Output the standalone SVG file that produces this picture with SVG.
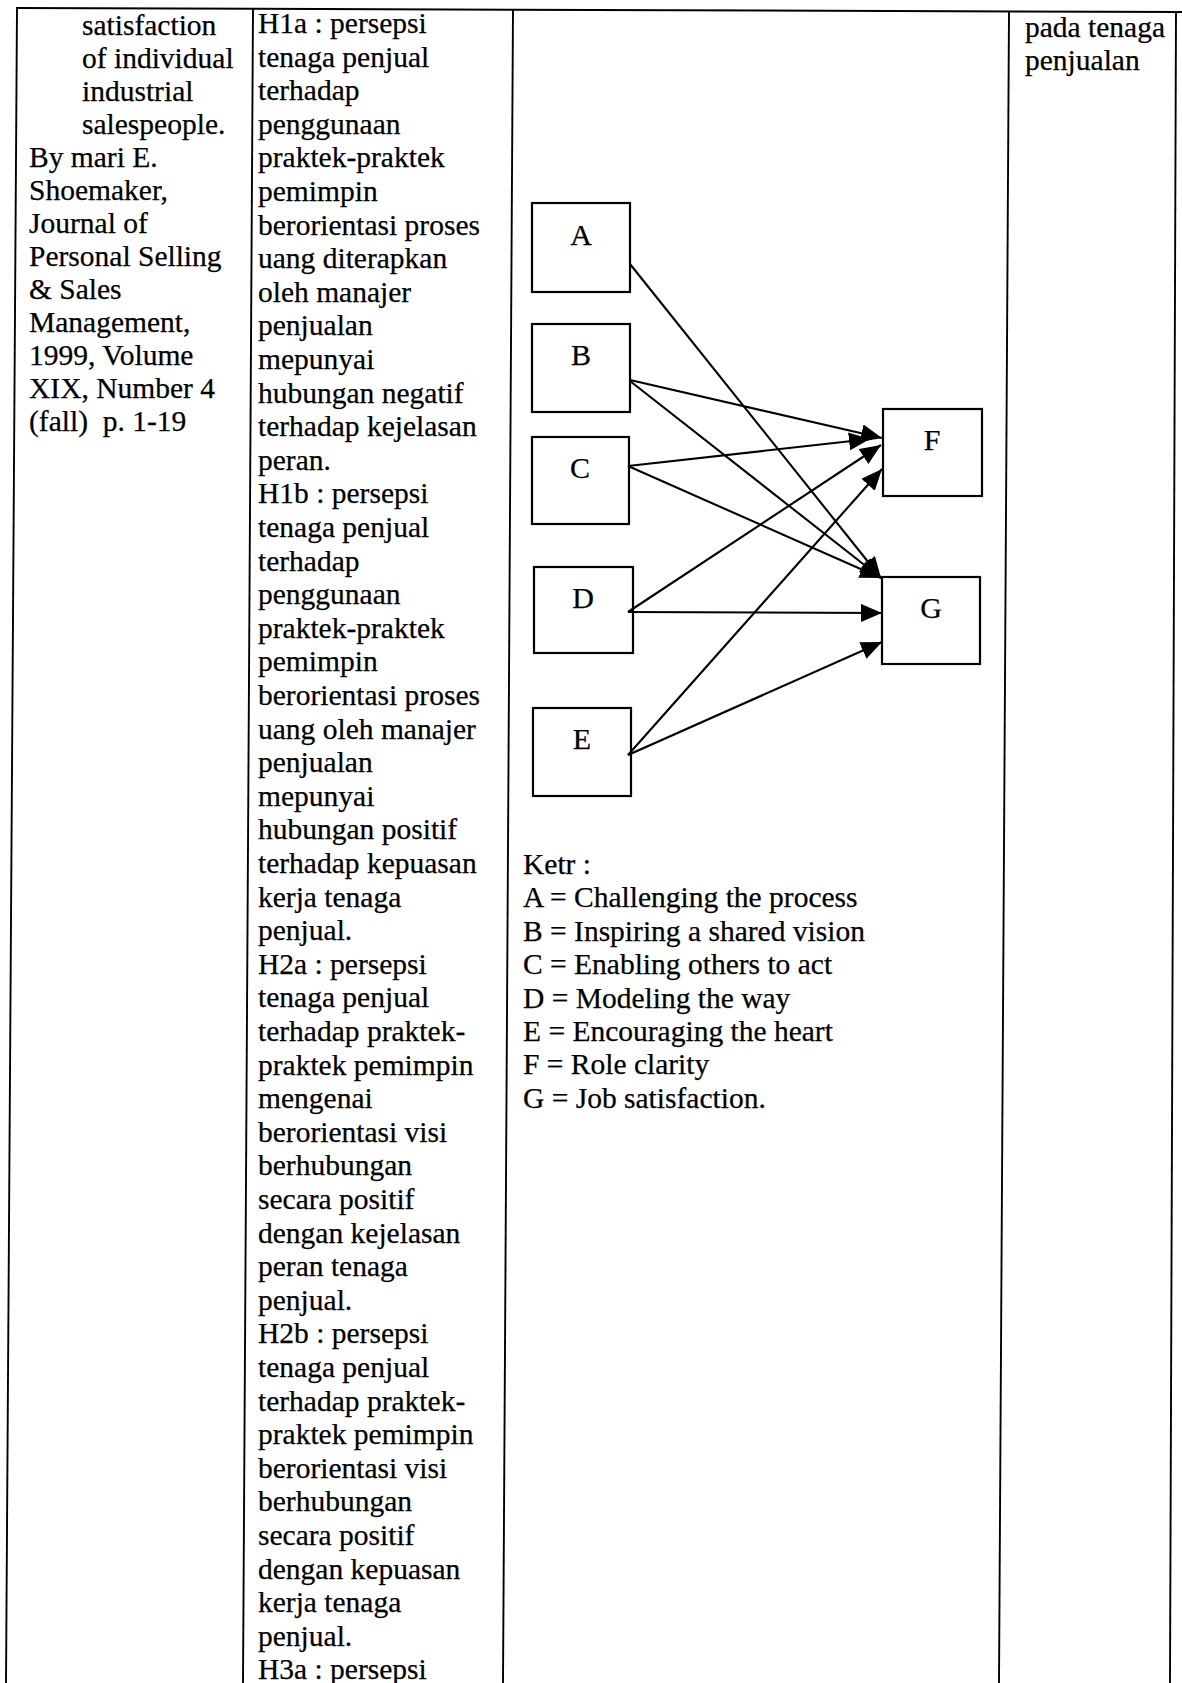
<svg xmlns="http://www.w3.org/2000/svg" width="1182" height="1683" viewBox="0 0 1182 1683">
  <style>
    .t { font-family: "Liberation Serif", "Times New Roman", serif; font-size: 29.5px; fill: #000; stroke: #000; stroke-width: 0.25; }
    .lbl { font-family: "Liberation Serif", "Times New Roman", serif; font-size: 30px; fill: #000; stroke: #000; stroke-width: 0.25; text-anchor: middle; }
    .rule { stroke: #000; stroke-width: 1.9; fill: none; }
    .box { stroke: #000; stroke-width: 2.2; fill: none; }
    .conn { stroke: #000; stroke-width: 2.1; fill: none; marker-end: url(#arrow); }
  </style>
  <defs>
    <marker id="arrow" markerUnits="userSpaceOnUse" markerWidth="24" markerHeight="20" refX="21" refY="9" orient="auto">
      <path d="M0,0 L21,9 L0,18 z" fill="#000"/>
    </marker>
  </defs>

  <rect width="1182" height="1683" fill="#fff"/>

  <!-- table rules -->
  <g id="table">
    <line class="rule" x1="16" y1="8" x2="1182" y2="12"/>
    <line class="rule" x1="17" y1="8" x2="6" y2="1683"/>
    <line class="rule" x1="253" y1="8" x2="243" y2="1683"/>
    <line class="rule" x1="513" y1="9" x2="503" y2="1683"/>
    <line class="rule" x1="1009" y1="11" x2="999" y2="1683"/>
    <line class="rule" x1="1176" y1="12" x2="1170" y2="1683"/>
  </g>

  <!-- column 1: reference -->
  <text id="col1" class="t">
    <tspan x="82" y="35">satisfaction</tspan>
    <tspan x="82" dy="33">of individual</tspan>
    <tspan x="82" dy="33">industrial</tspan>
    <tspan x="82" dy="33">salespeople.</tspan>
    <tspan x="29" dy="33">By mari E.</tspan>
    <tspan x="29" dy="33">Shoemaker,</tspan>
    <tspan x="29" dy="33">Journal of</tspan>
    <tspan x="29" dy="33">Personal Selling</tspan>
    <tspan x="29" dy="33">&amp; Sales</tspan>
    <tspan x="29" dy="33">Management,</tspan>
    <tspan x="29" dy="33">1999, Volume</tspan>
    <tspan x="29" dy="33">XIX, Number 4</tspan>
    <tspan x="29" dy="33" xml:space="preserve">(fall)  p. 1-19</tspan>
  </text>

  <!-- column 2: hypotheses -->
  <text id="col2" class="t">
    <tspan x="258" y="33">H1a : persepsi</tspan>
    <tspan x="258" dy="33.6">tenaga penjual</tspan>
    <tspan x="258" dy="33.6">terhadap</tspan>
    <tspan x="258" dy="33.6">penggunaan</tspan>
    <tspan x="258" dy="33.6">praktek-praktek</tspan>
    <tspan x="258" dy="33.6">pemimpin</tspan>
    <tspan x="258" dy="33.6">berorientasi proses</tspan>
    <tspan x="258" dy="33.6">uang diterapkan</tspan>
    <tspan x="258" dy="33.6">oleh manajer</tspan>
    <tspan x="258" dy="33.6">penjualan</tspan>
    <tspan x="258" dy="33.6">mepunyai</tspan>
    <tspan x="258" dy="33.6">hubungan negatif</tspan>
    <tspan x="258" dy="33.6">terhadap kejelasan</tspan>
    <tspan x="258" dy="33.6">peran.</tspan>
    <tspan x="258" dy="33.6">H1b : persepsi</tspan>
    <tspan x="258" dy="33.6">tenaga penjual</tspan>
    <tspan x="258" dy="33.6">terhadap</tspan>
    <tspan x="258" dy="33.6">penggunaan</tspan>
    <tspan x="258" dy="33.6">praktek-praktek</tspan>
    <tspan x="258" dy="33.6">pemimpin</tspan>
    <tspan x="258" dy="33.6">berorientasi proses</tspan>
    <tspan x="258" dy="33.6">uang oleh manajer</tspan>
    <tspan x="258" dy="33.6">penjualan</tspan>
    <tspan x="258" dy="33.6">mepunyai</tspan>
    <tspan x="258" dy="33.6">hubungan positif</tspan>
    <tspan x="258" dy="33.6">terhadap kepuasan</tspan>
    <tspan x="258" dy="33.6">kerja tenaga</tspan>
    <tspan x="258" dy="33.6">penjual.</tspan>
    <tspan x="258" dy="33.6">H2a : persepsi</tspan>
    <tspan x="258" dy="33.6">tenaga penjual</tspan>
    <tspan x="258" dy="33.6">terhadap praktek-</tspan>
    <tspan x="258" dy="33.6">praktek pemimpin</tspan>
    <tspan x="258" dy="33.6">mengenai</tspan>
    <tspan x="258" dy="33.6">berorientasi visi</tspan>
    <tspan x="258" dy="33.6">berhubungan</tspan>
    <tspan x="258" dy="33.6">secara positif</tspan>
    <tspan x="258" dy="33.6">dengan kejelasan</tspan>
    <tspan x="258" dy="33.6">peran tenaga</tspan>
    <tspan x="258" dy="33.6">penjual.</tspan>
    <tspan x="258" dy="33.6">H2b : persepsi</tspan>
    <tspan x="258" dy="33.6">tenaga penjual</tspan>
    <tspan x="258" dy="33.6">terhadap praktek-</tspan>
    <tspan x="258" dy="33.6">praktek pemimpin</tspan>
    <tspan x="258" dy="33.6">berorientasi visi</tspan>
    <tspan x="258" dy="33.6">berhubungan</tspan>
    <tspan x="258" dy="33.6">secara positif</tspan>
    <tspan x="258" dy="33.6">dengan kepuasan</tspan>
    <tspan x="258" dy="33.6">kerja tenaga</tspan>
    <tspan x="258" dy="33.6">penjual.</tspan>
    <tspan x="258" dy="33.6">H3a : persepsi</tspan>
  </text>

  <!-- column 4 -->
  <text id="col4" class="t">
    <tspan x="1025" y="37">pada tenaga</tspan>
    <tspan x="1025" dy="33">penjualan</tspan>
  </text>

  <!-- connectors -->
  <g id="connectors">
    <line class="conn" x1="630" y1="264" x2="881" y2="578"/>
    <line class="conn" x1="630" y1="380" x2="882" y2="438"/>
    <line class="conn" x1="630" y1="381" x2="881" y2="578"/>
    <line class="conn" x1="628" y1="466" x2="870" y2="439"/>
    <line class="conn" x1="628" y1="466" x2="881" y2="578"/>
    <line class="conn" x1="628" y1="612" x2="881" y2="445"/>
    <line class="conn" x1="628" y1="612" x2="882" y2="613"/>
    <line class="conn" x1="628" y1="755" x2="882" y2="469"/>
    <line class="conn" x1="628" y1="755" x2="882" y2="642"/>
  </g>

  <!-- nodes -->
  <g id="node-A"><rect class="box" x="532" y="203" width="98" height="89"/><text class="lbl" x="581" y="245">A</text></g>
  <g id="node-B"><rect class="box" x="532" y="324" width="98" height="88"/><text class="lbl" x="581" y="365">B</text></g>
  <g id="node-C"><rect class="box" x="532" y="437" width="97" height="87"/><text class="lbl" x="580" y="478">C</text></g>
  <g id="node-D"><rect class="box" x="534" y="567" width="99" height="86"/><text class="lbl" x="583" y="608">D</text></g>
  <g id="node-E"><rect class="box" x="533" y="708" width="98" height="88"/><text class="lbl" x="582" y="749">E</text></g>
  <g id="node-F"><rect class="box" x="883" y="409" width="99" height="87"/><text class="lbl" x="932" y="450">F</text></g>
  <g id="node-G"><rect class="box" x="882" y="577" width="98" height="87"/><text class="lbl" x="931" y="618">G</text></g>

  <!-- legend -->
  <text id="legend" class="t">
    <tspan x="523" y="874">Ketr :</tspan>
    <tspan x="523" dy="33.4">A = Challenging the process</tspan>
    <tspan x="523" dy="33.4">B = Inspiring a shared vision</tspan>
    <tspan x="523" dy="33.4">C = Enabling others to act</tspan>
    <tspan x="523" dy="33.4">D = Modeling the way</tspan>
    <tspan x="523" dy="33.4">E = Encouraging the heart</tspan>
    <tspan x="523" dy="33.4">F = Role clarity</tspan>
    <tspan x="523" dy="33.4">G = Job satisfaction.</tspan>
  </text>
</svg>
